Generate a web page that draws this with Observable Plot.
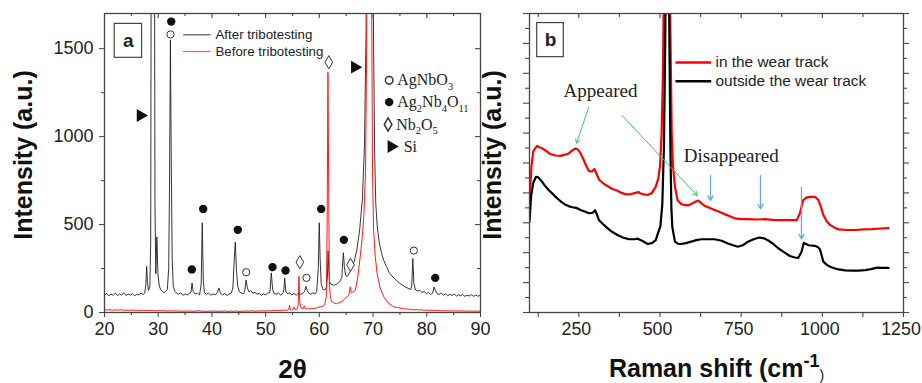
<!DOCTYPE html>
<html><head><meta charset="utf-8">
<script src="https://cdn.jsdelivr.net/npm/d3@7"></script>
<script src="https://cdn.jsdelivr.net/npm/@observablehq/plot@0.6"></script>
<style>
body{margin:0;background:#fff;}
#wrap{position:relative;width:922px;height:383px;overflow:hidden;background:#fff;}
#pa,#pb{position:absolute;top:0;}
#pa{left:0;} #pb{left:480px;}
</style></head><body><div id="wrap"><div id="pa"></div><div id="pb"></div></div>
<script>
// ---------------- Panel a : XRD ----------------
const xrdAfter = [[20.0,100],[20.4,108],[20.8,95],[21.2,104],[21.6,98],[22.0,110],[22.4,96],[22.8,105],[23.2,100],[23.6,112],[24.0,97],[24.4,104],[24.8,99],[25.2,108],[25.6,95],[26.0,103],[26.4,100],[26.8,110],[27.2,102],[27.5,112],[27.7,160],[27.85,262],[28.0,170],[28.2,125],[28.45,150],[28.6,400],[28.75,3000],[29.0,3200],[29.25,3000],[29.4,600],[29.55,220],[29.75,430],[29.95,220],[30.2,150],[30.5,128],[30.8,118],[31.1,112],[31.4,120],[31.7,130],[31.95,250],[32.1,700],[32.27,1550],[32.42,900],[32.6,300],[32.8,150],[33.1,120],[33.4,110],[33.8,104],[34.2,112],[34.6,98],[35.0,106],[35.4,100],[35.8,108],[36.1,115],[36.3,168],[36.5,120],[36.9,104],[37.3,110],[37.7,100],[38.0,160],[38.2,510],[38.4,180],[38.6,112],[39.0,104],[39.4,110],[39.8,98],[40.2,106],[40.6,101],[41.0,112],[41.3,140],[41.6,108],[42.0,100],[42.4,108],[42.8,96],[43.2,106],[43.6,110],[43.9,140],[44.15,300],[44.35,400],[44.55,250],[44.8,150],[45.1,118],[45.5,110],[45.9,106],[46.15,130],[46.35,185],[46.6,140],[46.9,118],[47.2,125],[47.6,110],[48.0,115],[48.4,104],[48.8,108],[49.2,98],[49.6,106],[50.0,100],[50.4,110],[50.8,115],[51.05,225],[51.3,130],[51.6,108],[52.0,104],[52.4,110],[52.8,100],[53.2,108],[53.4,130],[53.55,195],[53.75,120],[54.1,106],[54.5,112],[54.9,100],[55.3,108],[55.7,98],[56.1,110],[56.5,104],[56.9,108],[57.25,120],[57.5,148],[57.75,125],[58.0,110],[58.4,104],[58.8,112],[59.2,106],[59.5,118],[59.8,250],[59.98,510],[60.15,300],[60.35,160],[60.7,130],[61.0,128],[61.3,140],[61.5,200],[61.62,350],[61.75,250],[61.9,175],[62.2,160],[62.6,155],[63.0,158],[63.4,165],[63.8,175],[64.2,200],[64.35,290],[64.48,340],[64.65,260],[64.9,210],[65.2,205],[65.6,225],[66.0,250],[66.5,290],[67.0,360],[67.5,470],[68.0,640],[68.4,950],[68.7,1600],[68.9,3000],[69.4,3500],[69.9,2500],[70.1,1500],[70.3,900],[70.5,620],[70.8,480],[71.2,390],[71.6,335],[72.0,295],[72.5,260],[73.0,228],[73.5,208],[74.0,192],[74.5,178],[75.0,165],[75.5,155],[76.0,145],[76.5,138],[77.0,130],[77.2,150],[77.4,307],[77.6,165],[77.9,128],[78.3,122],[78.7,125],[79.1,114],[79.5,120],[79.9,108],[80.3,114],[80.7,102],[81.1,110],[81.35,145],[81.55,128],[81.9,108],[82.3,102],[82.7,110],[83.1,98],[83.5,106],[83.9,95],[84.3,103],[84.7,97],[85.1,105],[85.5,93],[85.9,101],[86.3,95],[86.7,103],[87.1,91],[87.5,99],[87.9,94],[88.3,101],[88.7,92],[89.1,99],[89.5,93],[90.0,97]];

const xrdBefore = [[20.0,18],[20.5,14],[21.0,16],[21.5,12],[22.0,15],[22.5,13],[23.0,16],[23.5,12],[24.0,14],[24.5,11],[25.0,14],[25.5,12],[26.0,13],[26.5,10],[27.0,13],[27.5,11],[28.0,12],[28.5,10],[29.0,12],[29.5,9],[30.0,11],[30.5,9],[31.0,11],[31.5,8],[32.0,10],[32.5,8],[33.0,10],[33.5,8],[34.0,9],[34.5,7],[35.0,9],[35.5,7],[36.0,9],[36.5,7],[37.0,8],[37.5,10],[38.0,7],[38.5,8],[39.0,6],[39.5,8],[40.0,7],[40.5,9],[41.0,6],[41.5,8],[42.0,7],[42.5,9],[43.0,6],[43.5,8],[44.0,7],[44.5,9],[45.0,6],[45.5,8],[46.0,7],[46.5,9],[47.0,8],[47.5,10],[48.0,7],[48.5,9],[49.0,8],[49.5,10],[50.0,8],[50.5,11],[51.0,9],[51.5,12],[52.0,10],[52.5,12],[53.0,11],[53.5,14],[54.0,12],[54.3,18],[54.45,42],[54.6,15],[55.0,14],[55.3,30],[55.5,16],[55.8,18],[56.05,40],[56.2,205],[56.35,60],[56.6,25],[57.0,22],[57.2,38],[57.4,20],[57.8,22],[58.2,20],[58.6,24],[59.0,22],[59.4,26],[59.8,30],[60.2,32],[60.6,35],[61.0,45],[61.3,90],[61.45,500],[61.6,1365],[61.72,800],[61.85,200],[62.05,80],[62.4,60],[62.8,52],[63.2,50],[63.6,55],[64.0,60],[64.4,68],[64.8,80],[65.2,90],[65.5,100],[65.75,146],[65.95,110],[66.3,118],[66.7,127],[67.1,190],[67.6,316],[68.0,430],[68.3,563],[68.6,800],[68.8,1500],[69.0,3000],[69.4,3500],[69.7,2000],[69.9,800],[70.1,468],[70.4,320],[70.75,223],[71.3,140],[72.0,89],[72.8,55],[73.85,32],[74.6,28],[75.2,24],[75.8,21],[76.4,19],[77.0,18],[77.5,15],[78.0,17],[78.5,14],[79.0,16],[79.5,12],[80.0,14],[80.5,11],[81.0,13],[81.5,10],[82.0,12],[82.5,9],[83.0,11],[83.5,9],[84.0,11],[84.5,8],[85.0,10],[85.5,8],[86.0,10],[86.5,8],[87.0,9],[87.5,7],[88.0,9],[88.5,7],[89.0,9],[89.5,7],[90.0,8]];

const agNbO3Marks = [[32.29,1581],[46.38,229],[57.61,197],[77.59,352]];
const ag2Nb4O11Marks = [[32.42,1654],[36.26,245],[38.37,589],[44.82,470],[51.28,258],[53.70,239],[60.34,589],[64.56,413],[81.57,197]];
const nb2O5Marks = [[56.37,286],[61.76,1423],[65.80,271]];
const siMarks = [[26.70,1120],[66.60,1395]];

const phaseLabels = ["AgNbO_{3}", "Ag_{2}Nb_{4}O_{11}", "Nb_{2}O_{5}", "Si"];
const phaseLegendY = [1320, 1196, 1069, 944];
const phaseLegendSymbolX = [73.0, 73.0, 72.8, 73.4];
const phaseLegendTextX = [74.5, 74.5, 74.3, 75.7];

const seriesLabelsA = ["After tribotesting", "Before tribotesting"];
const seriesLegendYA = [1579, 1484];
const seriesLegendXA = [34.65, 39.74, 40.66];
const panelBoxA = {x1: 21.9, x2: 27.0, y1: 1448, y2: 1641, label: "a"};

const xTicksA = [20, 30, 40, 50, 60, 70, 80, 90];
const xMinorA = [25, 35, 45, 55, 65, 75, 85];
const yTicksA = [0, 500, 1000, 1500];
const yMinorA = [250, 750, 1250];

// ---------------- Panel b : Raman ----------------
const ramanIn = [[98,3.65],[104,4.9],[110,5.4],[121,5.57],[130,5.52],[137,5.49],[150,5.40],[162,5.30],[178,5.25],[193,5.24],[205,5.27],[219,5.32],[230,5.42],[240,5.49],[247,5.45],[255,5.33],[265,5.10],[273,4.90],[281,4.73],[290,4.72],[298,4.80],[304,4.65],[312,4.45],[325,4.32],[338,4.23],[352,4.14],[369,4.07],[382,4.00],[395,3.95],[410,3.96],[425,4.00],[433,4.03],[440,3.98],[450,3.95],[462,3.93],[475,4.00],[487,4.21],[495,4.5],[500,4.9],[505,6.0],[509,8.0],[512,11],[521,13],[530,11],[533,8.5],[536,6.0],[540,4.9],[546,4.21],[554,3.76],[565,3.63],[575,3.60],[586,3.58],[596,3.63],[608,3.70],[618,3.74],[627,3.66],[637,3.57],[652,3.50],[668,3.43],[684,3.36],[699,3.29],[715,3.22],[730,3.15],[750,3.12],[771,3.12],[797,3.11],[822,3.12],[848,3.10],[874,3.09],[900,3.09],[921,3.09],[931,3.32],[941,3.76],[952,3.85],[965,3.87],[977,3.87],[988,3.76],[995,3.55],[1003,3.26],[1013,3.06],[1024,2.93],[1037,2.84],[1050,2.78],[1075,2.76],[1101,2.76],[1127,2.78],[1153,2.79],[1180,2.81],[1204,2.82]];

const ramanOut = [[98,3.04],[103,3.9],[110,4.35],[118,4.54],[125,4.52],[137,4.37],[147,4.22],[157,4.10],[170,3.96],[183,3.82],[196,3.70],[209,3.60],[220,3.55],[230,3.52],[242,3.50],[255,3.43],[268,3.38],[281,3.32],[292,3.33],[300,3.42],[305,3.30],[312,3.09],[325,2.95],[338,2.82],[352,2.70],[369,2.59],[387,2.50],[405,2.45],[420,2.45],[431,2.47],[445,2.40],[462,2.29],[475,2.32],[487,2.42],[495,2.7],[501,2.87],[507,3.6],[512,5.5],[516,9],[519,13],[526,13],[529,9],[532,5.5],[535,3.5],[538,2.85],[546,2.37],[555,2.30],[565,2.29],[580,2.32],[596,2.37],[612,2.42],[627,2.45],[648,2.45],[668,2.45],[690,2.40],[709,2.31],[725,2.25],[740,2.20],[755,2.25],[771,2.37],[790,2.46],[807,2.51],[820,2.48],[832,2.42],[848,2.30],[864,2.15],[882,2.02],[900,1.89],[915,1.84],[926,1.83],[936,2.03],[943,2.33],[948,2.30],[958,2.25],[977,2.23],[987,2.18],[993,2.11],[1003,1.70],[1013,1.60],[1024,1.53],[1037,1.48],[1050,1.44],[1070,1.41],[1091,1.40],[1111,1.40],[1132,1.42],[1150,1.45],[1168,1.50],[1186,1.49],[1204,1.49]];

const seriesLabelsB = ["in the wear track", "outside the wear track"];
const seriesLegendYB = [8.36, 7.73];
const seriesLegendXB = [547.7, 657.7, 671];
const panelBoxB = {x1: 121.7, x2: 203.7, y1: 8.54, y2: 9.68, label: "b"};
const noteLabels = [{text: "Appeared", x: 316.7, y: 7.42}, {text: "Disappeared", x: 719.6, y: 5.25}];
const appearedArrows = [{x1: 280.7, y1: 6.87, x2: 242.8, y2: 5.66}, {x1: 383.5, y1: 6.59, x2: 614.6, y2: 3.91}];
const disappearedArrows = [{x1: 655.5, y1: 4.58, x2: 655.5, y2: 3.75}, {x1: 809.5, y1: 4.58, x2: 809.5, y2: 3.47}, {x1: 935.8, y1: 4.19, x2: 935.8, y2: 2.46}];

const xTicksB = [250, 500, 750, 1000, 1250];
const xMinorB = [125, 375, 625, 875, 1125];
const yTicksB = [0, 1, 2, 3, 4, 5, 6, 7, 8, 9, 10];
const yMinorB = [0.5, 1.5, 2.5, 3.5, 4.5, 5.5, 6.5, 7.5, 8.5, 9.5];

// ---------------- helpers ----------------
const sans = "'Liberation Sans', Arial, sans-serif";
const serif = "'Liberation Serif', 'Times New Roman', serif";
const frameColor = "#454545";
const H = 383, mT = 13, mB = 71;
const innerH = H - mT - mB;
const plain = d => String(d);

function frameTicks(values, side, len, iw, ih) {
  const o = {stroke: frameColor, strokeWidth: 1.1};
  if (side === "top-in") return Plot.tickX(values, {x: d => d, insetTop: 0, insetBottom: ih - len, ...o});
  if (side === "bottom-out") return Plot.tickX(values, {x: d => d, insetTop: ih, insetBottom: -len, ...o});
  if (side === "left-out") return Plot.tickY(values, {y: d => d, insetLeft: -len, insetRight: iw, ...o});
  if (side === "right-in") return Plot.tickY(values, {y: d => d, insetLeft: iw - len, insetRight: 0, ...o});
  if (side === "right-out") return Plot.tickY(values, {y: d => d, insetLeft: iw, insetRight: -len, ...o});
}

function richText(svg) {
  svg.querySelectorAll("text").forEach(t => {
    const s = t.textContent;
    if (!/[_^~]\{/.test(s)) return;
    const fs = parseFloat(getComputedStyle(t).fontSize) || 16;
    const re = /([_^~])\{([^}]*)\}|([^_^~]+)/g;
    const parts = []; let m;
    while ((m = re.exec(s))) parts.push(m[3] != null ? {t: m[3], k: ""} : {t: m[2], k: m[1]});
    while (t.firstChild) t.removeChild(t.firstChild);
    let cur = 0;
    for (const p of parts) {
      const ts = document.createElementNS("http://www.w3.org/2000/svg", "tspan");
      let off = 0, size = null;
      if (p.k === "_") { off = 0.28 * fs; size = 0.66 * fs; }
      if (p.k === "^") { off = -0.4 * fs; size = 0.72 * fs; }
      if (p.k === "~") { off = 0.12 * fs; size = 0.56 * fs; ts.setAttribute("font-weight", "normal"); }
      if (off !== cur) ts.setAttribute("dy", off - cur);
      cur = off;
      if (size) ts.setAttribute("font-size", size);
      ts.textContent = p.t;
      t.appendChild(ts);
    }
  });
}

// ---------------- Plot a ----------------
const WA = 490, mLA = 104, mRA = 10, innerWA = WA - mLA - mRA;
const X = d => d[0], Y = d => d[1];

const plotA = Plot.plot({
  width: WA, height: H, marginTop: mT, marginBottom: mB, marginLeft: mLA, marginRight: mRA,
  style: {background: "transparent", overflow: "visible", fontFamily: sans, color: "#222"},
  x: {domain: [20, 90], axis: null},
  y: {domain: [0, 1700], axis: null},
  marks: [
    Plot.line(xrdAfter, {x: X, y: Y, stroke: "#1e1e1e", strokeWidth: 0.9, clip: true}),
    Plot.line(xrdBefore, {x: X, y: Y, stroke: "#ff1a1a", strokeWidth: 1, clip: true}),
    Plot.dot(agNbO3Marks, {x: X, y: Y, r: 3.6, fill: "white", stroke: "#333", strokeWidth: 1}),
    Plot.dot(ag2Nb4O11Marks, {x: X, y: Y, r: 4.2, fill: "#111"}),
    Plot.dot(nb2O5Marks, {x: X, y: Y, symbol: "diamond", r: 4, fill: "white", stroke: "#333", strokeWidth: 1}),
    Plot.dot(siMarks, {x: X, y: Y, symbol: "triangle", r: 4.8, rotate: 90, fill: "#111"}),
    // phase legend
    Plot.dot([0], {x: phaseLegendSymbolX[0], y: phaseLegendY[0], r: 3.8, fill: "white", stroke: "#333"}),
    Plot.dot([0], {x: phaseLegendSymbolX[1], y: phaseLegendY[1], r: 4.2, fill: "#111"}),
    Plot.dot([0], {x: phaseLegendSymbolX[2], y: phaseLegendY[2], symbol: "diamond", r: 4, fill: "white", stroke: "#333"}),
    Plot.dot([0], {x: phaseLegendSymbolX[3], y: phaseLegendY[3], symbol: "triangle", r: 4.8, rotate: 90, fill: "#111"}),
    Plot.text(phaseLabels, {x: (d, i) => phaseLegendTextX[i], y: (d, i) => phaseLegendY[i], text: d => d, textAnchor: "start", fontFamily: serif, fontSize: 16, fill: "#222"}),
    // series legend
    Plot.link([0, 1], {x1: seriesLegendXA[0], x2: seriesLegendXA[1], y1: i => seriesLegendYA[i], y2: i => seriesLegendYA[i], stroke: (d, i) => ["#555", "#ff5a5a"][i], strokeWidth: 1.2}),
    Plot.text(seriesLabelsA, {x: seriesLegendXA[2], y: (d, i) => seriesLegendYA[i], text: d => d, textAnchor: "start", fontSize: 13.3, fill: "#222"}),
    // panel box
    Plot.rect([panelBoxA], {x1: "x1", x2: "x2", y1: "y1", y2: "y2", fill: "white", stroke: frameColor, strokeWidth: 1.2}),
    Plot.text([panelBoxA], {x: d => (d.x1 + d.x2) / 2, y: d => (d.y1 + d.y2) / 2, text: "label", fontWeight: "bold", fontSize: 19}),
    // frame + ticks
    Plot.frame({stroke: frameColor, strokeWidth: 1.3}),
    Plot.axisX({ticks: xTicksA, tickFormat: plain, tickSize: 5, tickPadding: 5, fontSize: 18, stroke: frameColor, label: null}),
    Plot.axisY({ticks: yTicksA, tickFormat: plain, tickSize: 5, tickPadding: 6, fontSize: 18, stroke: frameColor, label: null}),
    frameTicks(xMinorA, "bottom-out", 3, innerWA, innerH),
    frameTicks(yMinorA, "left-out", 3, innerWA, innerH),
    frameTicks(xTicksA, "top-in", 5, innerWA, innerH),
    frameTicks(xMinorA, "top-in", 3, innerWA, innerH),
    frameTicks(yTicksA, "right-in", 5, innerWA, innerH),
    frameTicks(yMinorA, "right-in", 3, innerWA, innerH),
    // axis titles
    Plot.text(["2θ"], {frameAnchor: "bottom", dy: 65, text: d => d, fontSize: 26, fontWeight: "bold", fill: "#111"}),
    Plot.text(["Intensity (a.u.)"], {frameAnchor: "left", dx: -81, dy: -8, rotate: -90, textAnchor: "middle", text: d => d, fontSize: 25, fontWeight: "bold", fill: "#111"})
  ]
});

// ---------------- Plot b ----------------
const WB = 442, mLB = 49, mRB = 19, innerWB = WB - mLB - mRB;
const plotB = Plot.plot({
  width: WB, height: H, marginTop: mT, marginBottom: mB, marginLeft: mLB, marginRight: mRB,
  style: {background: "transparent", overflow: "visible", fontFamily: sans, color: "#222"},
  x: {domain: [98, 1250], axis: null},
  y: {domain: [0, 10], axis: null},
  marks: [
    Plot.line(ramanIn, {x: X, y: Y, stroke: "#ff0000", strokeWidth: 2.2, clip: true}),
    Plot.line(ramanOut, {x: X, y: Y, stroke: "#000", strokeWidth: 2.2, clip: true}),
    Plot.arrow(appearedArrows, {x1: "x1", y1: "y1", x2: "x2", y2: "y2", stroke: "#3ec46a", strokeWidth: 1, headLength: 7}),
    Plot.arrow(disappearedArrows, {x1: "x1", y1: "y1", x2: "x2", y2: "y2", stroke: "#6aa6e0", strokeWidth: 1.3, headLength: 6}),
    Plot.text(noteLabels, {x: "x", y: "y", text: "text", fontFamily: serif, fontSize: 19, fill: "#222"}),
    Plot.link([0, 1], {x1: seriesLegendXB[0], x2: seriesLegendXB[1], y1: i => seriesLegendYB[i], y2: i => seriesLegendYB[i], stroke: (d, i) => ["#ff0000", "#000"][i], strokeWidth: 2.5}),
    Plot.text(seriesLabelsB, {x: seriesLegendXB[2], y: (d, i) => seriesLegendYB[i], text: d => d, textAnchor: "start", fontSize: 15.4, fill: "#222"}),
    Plot.rect([panelBoxB], {x1: "x1", x2: "x2", y1: "y1", y2: "y2", fill: "white", stroke: frameColor, strokeWidth: 1.2}),
    Plot.text([panelBoxB], {x: d => (d.x1 + d.x2) / 2, y: d => (d.y1 + d.y2) / 2, text: "label", fontWeight: "bold", fontSize: 19}),
    Plot.frame({stroke: frameColor, strokeWidth: 1.3}),
    frameTicks(xTicksB, "bottom-out", 5, innerWB, innerH),
    Plot.axisX({ticks: xTicksB, tickFormat: plain, tickSize: 0, tickPadding: 10, fontSize: 17.8, dx: -2.5, label: null}),
    frameTicks(xMinorB, "bottom-out", 5, innerWB, innerH),
    frameTicks(xTicksB, "top-in", 5, innerWB, innerH),
    frameTicks(xMinorB, "top-in", 4, innerWB, innerH),
    frameTicks(yTicksB, "left-out", 6, innerWB, innerH),
    frameTicks(yMinorB, "left-out", 4, innerWB, innerH),
    frameTicks(yTicksB, "right-out", 6, innerWB, innerH),
    frameTicks(yMinorB, "right-out", 4, innerWB, innerH),
    Plot.text(["Raman shift (cm^{-1}~{)}"], {frameAnchor: "bottom", dy: 64, text: d => d, fontSize: 25, fontWeight: "bold", fill: "#111"}),
    Plot.text(["Intensity (a.u.)"], {frameAnchor: "left", dx: -37, dy: -8, rotate: -90, textAnchor: "middle", text: d => d, fontSize: 25, fontWeight: "bold", fill: "#111"})
  ]
});

document.getElementById("pa").appendChild(plotA);
document.getElementById("pb").appendChild(plotB);
richText(plotA);
richText(plotB);
</script></body></html>
